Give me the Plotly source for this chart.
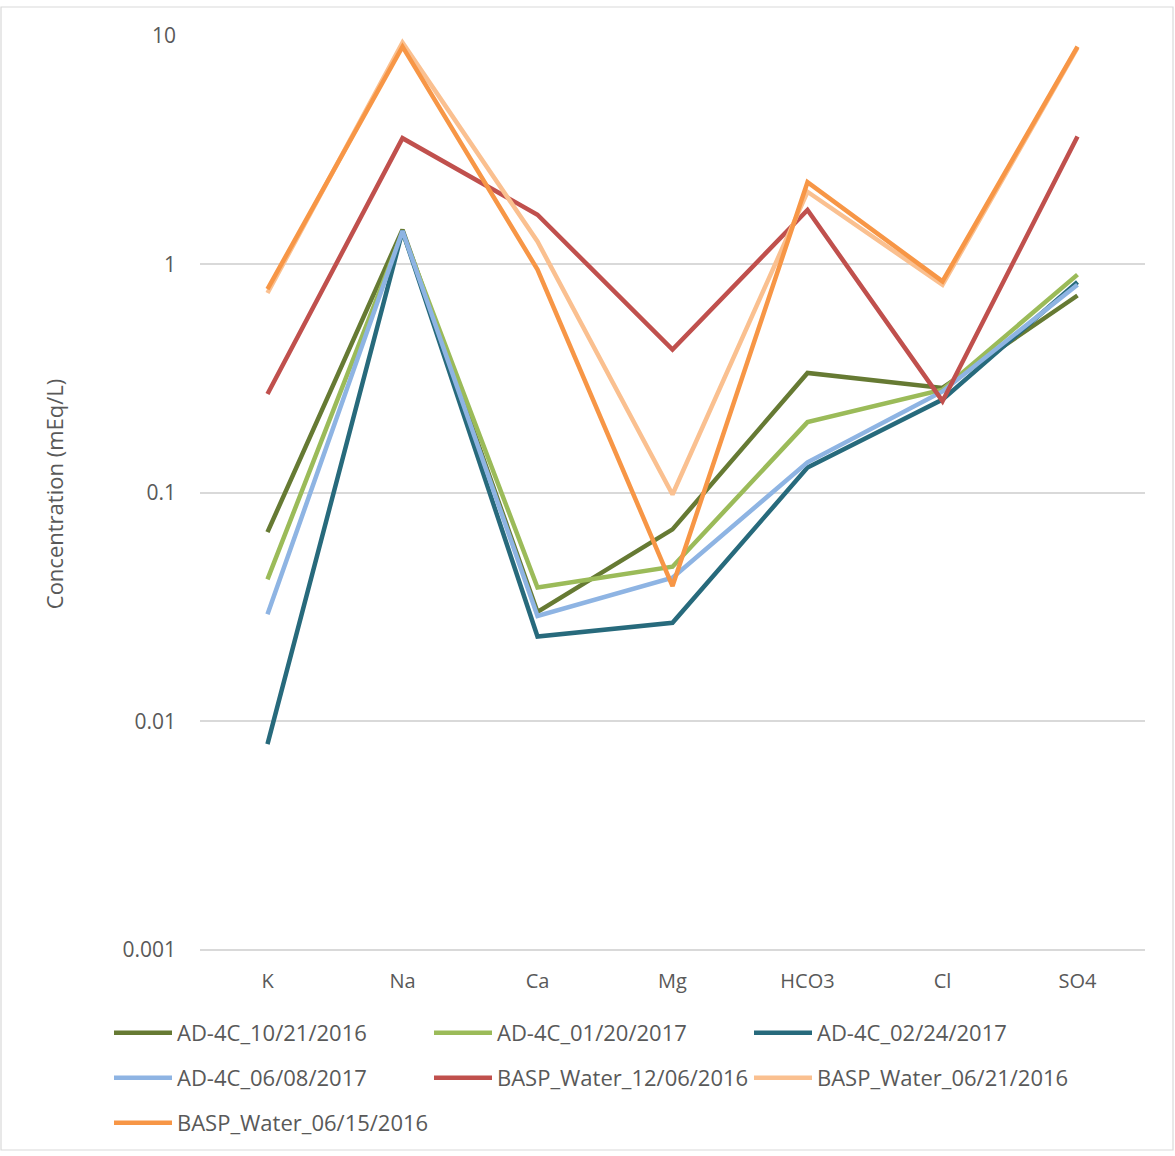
import plotly.graph_objects as go

ions = ["K", "Na", "Ca", "Mg", "HCO3", "Cl", "SO4"]

ad_20161021 = [0.0673, 1.42, 0.0301, 0.0692, 0.335, 0.288, 0.731]
ad_20170120 = [0.0418, 1.38, 0.0385, 0.0475, 0.204, 0.283, 0.902]
ad_20170224 = [0.00794, 1.40, 0.0235, 0.0270, 0.129, 0.256, 0.838]
ad_20170608 = [0.0294, 1.40, 0.0289, 0.0425, 0.136, 0.278, 0.815]
basp_20161206 = [0.271, 3.57, 1.65, 0.424, 1.73, 0.252, 3.63]
basp_20160621 = [0.75, 9.35, 1.26, 0.0984, 2.08, 0.815, 8.90]
basp_20160615 = [0.78, 8.98, 0.95, 0.0391, 2.29, 0.843, 8.98]

series_names = [
    "AD-4C_10/21/2016", "AD-4C_01/20/2017", "AD-4C_02/24/2017",
    "AD-4C_06/08/2017", "BASP_Water_12/06/2016", "BASP_Water_06/21/2016",
    "BASP_Water_06/15/2016",
]
series_values = [ad_20161021, ad_20170120, ad_20170224, ad_20170608,
                 basp_20161206, basp_20160621, basp_20160615]
colors = ["#667A33", "#9BBB59", "#276A7C", "#8EB4E3", "#C0504D", "#FAC090", "#F79646"]
legend_rows = ["legend", "legend", "legend", "legend2", "legend2", "legend2", "legend3"]

y_tickvals = [0.001, 0.01, 0.1, 1, 10]
y_ticktext = ["0.001", "0.01", "0.1", "1", "10"]

fig = go.Figure()
for name, vals, col, lg in zip(series_names, series_values, colors, legend_rows):
    fig.add_trace(go.Scatter(
        x=ions, y=vals, name=name, mode="lines", legend=lg,
        line=dict(color=col, width=4.5),
    ))

W, H = 1175, 1156
L, R, T, B = 200, 30, 36, 204
pw, ph = W - L - R, H - T - B

TXT = "#595959"
FONT = "Open Sans, sans-serif"


def row_legend(row_y_px):
    return dict(
        orientation="h", x=(109 - L) / pw, xanchor="left",
        y=(H - B - row_y_px) / ph, yanchor="middle",
        entrywidth=247, entrywidthmode="pixels", itemwidth=58,
        font=dict(size=22, family=FONT, color=TXT),
        bgcolor="rgba(0,0,0,0)", tracegroupgap=0,
    )


fig.update_layout(
    width=W, height=H,
    margin=dict(l=L, r=R, t=T, b=B),
    paper_bgcolor="white", plot_bgcolor="white",
    font=dict(family=FONT, color=TXT),
    xaxis=dict(
        type="category", range=[-0.5, 6.5], showgrid=False, zeroline=False,
        showline=False, ticks="", ticklabelstandoff=15,
        tickfont=dict(size=20, family=FONT, color=TXT),
    ),
    yaxis=dict(
        type="log", range=[-3.01, 1], tickvals=y_tickvals, ticktext=y_ticktext,
        showgrid=True, gridcolor="#D9D9D9", gridwidth=1.5, zeroline=False,
        showline=False, ticks="", ticklabelstandoff=23,
        tickfont=dict(size=21, family=FONT, color=TXT),
        title=dict(text="Concentration (mEq/L)", font=dict(size=22, family=FONT, color=TXT),
                   standoff=52),
    ),
    legend=row_legend(1033),
    legend2=row_legend(1078),
    legend3=row_legend(1123),
    shapes=[dict(
        type="rect", xref="paper", yref="paper",
        x0=(1 - L) / pw, x1=(1173 - L) / pw,
        y0=(H - B - 1150) / ph, y1=(H - B - 7) / ph,
        line=dict(color="#D9D9D9", width=1.2), fillcolor="rgba(0,0,0,0)", layer="below",
    )],
)

fig.write_html("out.html", config={"displayModeBar": False},
               post_script="document.body.style.margin='0';")
